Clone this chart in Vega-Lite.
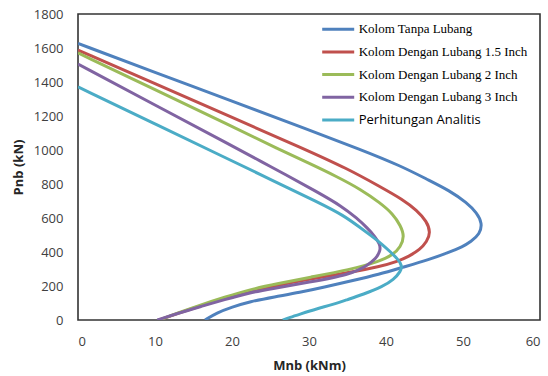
{
  "$schema": "https://vega.github.io/schema/vega-lite/v6.json",
  "width": 462,
  "height": 306,
  "autosize": {"type": "none"},
  "padding": {"left": 78, "top": 14, "right": 8, "bottom": 56},
  "background": "white",
  "config": {
    "view": {"stroke": "#333333", "strokeWidth": 1.6},
    "axis": {"domain": false, "ticks": false, "grid": false, "labelFont": "Open Sans", "labelFontSize": 13, "labelColor": "#404040", "titleFont": "Open Sans", "titleFontSize": 13, "titleFontWeight": "bold", "titleColor": "#262626"}
  },
  "data": {"values": [
    {"s": "Kolom Tanpa Lubang", "i": 1, "M": 0, "P": 1627},
    {"s": "Kolom Tanpa Lubang", "i": 2, "M": 10, "P": 1457},
    {"s": "Kolom Tanpa Lubang", "i": 3, "M": 20, "P": 1287},
    {"s": "Kolom Tanpa Lubang", "i": 4, "M": 30, "P": 1117},
    {"s": "Kolom Tanpa Lubang", "i": 5, "M": 36.6, "P": 1005},
    {"s": "Kolom Tanpa Lubang", "i": 6, "M": 42, "P": 905},
    {"s": "Kolom Tanpa Lubang", "i": 7, "M": 45.3, "P": 828},
    {"s": "Kolom Tanpa Lubang", "i": 8, "M": 48.3, "P": 760},
    {"s": "Kolom Tanpa Lubang", "i": 9, "M": 50.5, "P": 690},
    {"s": "Kolom Tanpa Lubang", "i": 10, "M": 51.8, "P": 630},
    {"s": "Kolom Tanpa Lubang", "i": 11, "M": 52.5, "P": 570},
    {"s": "Kolom Tanpa Lubang", "i": 12, "M": 52.2, "P": 505},
    {"s": "Kolom Tanpa Lubang", "i": 13, "M": 51, "P": 460},
    {"s": "Kolom Tanpa Lubang", "i": 14, "M": 50, "P": 432},
    {"s": "Kolom Tanpa Lubang", "i": 15, "M": 48, "P": 395},
    {"s": "Kolom Tanpa Lubang", "i": 16, "M": 45.7, "P": 357},
    {"s": "Kolom Tanpa Lubang", "i": 17, "M": 42, "P": 308},
    {"s": "Kolom Tanpa Lubang", "i": 18, "M": 39.2, "P": 270},
    {"s": "Kolom Tanpa Lubang", "i": 19, "M": 35.3, "P": 228},
    {"s": "Kolom Tanpa Lubang", "i": 20, "M": 32, "P": 193},
    {"s": "Kolom Tanpa Lubang", "i": 21, "M": 28.8, "P": 162},
    {"s": "Kolom Tanpa Lubang", "i": 22, "M": 25.5, "P": 136},
    {"s": "Kolom Tanpa Lubang", "i": 23, "M": 22.3, "P": 108},
    {"s": "Kolom Tanpa Lubang", "i": 24, "M": 20, "P": 76},
    {"s": "Kolom Tanpa Lubang", "i": 25, "M": 18, "P": 42},
    {"s": "Kolom Tanpa Lubang", "i": 26, "M": 16.5, "P": 0},

    {"s": "Kolom Dengan Lubang 1.5 Inch", "i": 1, "M": 0, "P": 1588},
    {"s": "Kolom Dengan Lubang 1.5 Inch", "i": 2, "M": 10, "P": 1390},
    {"s": "Kolom Dengan Lubang 1.5 Inch", "i": 3, "M": 20, "P": 1192},
    {"s": "Kolom Dengan Lubang 1.5 Inch", "i": 4, "M": 29.2, "P": 1010},
    {"s": "Kolom Dengan Lubang 1.5 Inch", "i": 5, "M": 35, "P": 890},
    {"s": "Kolom Dengan Lubang 1.5 Inch", "i": 6, "M": 39.2, "P": 785},
    {"s": "Kolom Dengan Lubang 1.5 Inch", "i": 7, "M": 42.2, "P": 708},
    {"s": "Kolom Dengan Lubang 1.5 Inch", "i": 8, "M": 44, "P": 645},
    {"s": "Kolom Dengan Lubang 1.5 Inch", "i": 9, "M": 45.3, "P": 580},
    {"s": "Kolom Dengan Lubang 1.5 Inch", "i": 10, "M": 45.8, "P": 515},
    {"s": "Kolom Dengan Lubang 1.5 Inch", "i": 11, "M": 45.3, "P": 460},
    {"s": "Kolom Dengan Lubang 1.5 Inch", "i": 12, "M": 44.4, "P": 414},
    {"s": "Kolom Dengan Lubang 1.5 Inch", "i": 13, "M": 43, "P": 375},
    {"s": "Kolom Dengan Lubang 1.5 Inch", "i": 14, "M": 41.4, "P": 343},
    {"s": "Kolom Dengan Lubang 1.5 Inch", "i": 15, "M": 39.2, "P": 314},
    {"s": "Kolom Dengan Lubang 1.5 Inch", "i": 16, "M": 35.3, "P": 280},
    {"s": "Kolom Dengan Lubang 1.5 Inch", "i": 17, "M": 30, "P": 240},
    {"s": "Kolom Dengan Lubang 1.5 Inch", "i": 18, "M": 26, "P": 205},
    {"s": "Kolom Dengan Lubang 1.5 Inch", "i": 19, "M": 22.3, "P": 168},
    {"s": "Kolom Dengan Lubang 1.5 Inch", "i": 20, "M": 19, "P": 126},
    {"s": "Kolom Dengan Lubang 1.5 Inch", "i": 21, "M": 16, "P": 84},
    {"s": "Kolom Dengan Lubang 1.5 Inch", "i": 22, "M": 13, "P": 40},
    {"s": "Kolom Dengan Lubang 1.5 Inch", "i": 23, "M": 10.5, "P": 0},

    {"s": "Kolom Dengan Lubang 2 Inch", "i": 1, "M": 0, "P": 1571},
    {"s": "Kolom Dengan Lubang 2 Inch", "i": 2, "M": 10, "P": 1355},
    {"s": "Kolom Dengan Lubang 2 Inch", "i": 3, "M": 20, "P": 1139},
    {"s": "Kolom Dengan Lubang 2 Inch", "i": 4, "M": 26.2, "P": 1002},
    {"s": "Kolom Dengan Lubang 2 Inch", "i": 5, "M": 30, "P": 922},
    {"s": "Kolom Dengan Lubang 2 Inch", "i": 6, "M": 33.6, "P": 844},
    {"s": "Kolom Dengan Lubang 2 Inch", "i": 7, "M": 36.8, "P": 766},
    {"s": "Kolom Dengan Lubang 2 Inch", "i": 8, "M": 39.2, "P": 690},
    {"s": "Kolom Dengan Lubang 2 Inch", "i": 9, "M": 40.9, "P": 625},
    {"s": "Kolom Dengan Lubang 2 Inch", "i": 10, "M": 41.9, "P": 555},
    {"s": "Kolom Dengan Lubang 2 Inch", "i": 11, "M": 42.4, "P": 492},
    {"s": "Kolom Dengan Lubang 2 Inch", "i": 12, "M": 41.9, "P": 430},
    {"s": "Kolom Dengan Lubang 2 Inch", "i": 13, "M": 40.9, "P": 384},
    {"s": "Kolom Dengan Lubang 2 Inch", "i": 14, "M": 39.2, "P": 345},
    {"s": "Kolom Dengan Lubang 2 Inch", "i": 15, "M": 35.3, "P": 296},
    {"s": "Kolom Dengan Lubang 2 Inch", "i": 16, "M": 30, "P": 250},
    {"s": "Kolom Dengan Lubang 2 Inch", "i": 17, "M": 26, "P": 214},
    {"s": "Kolom Dengan Lubang 2 Inch", "i": 18, "M": 22.3, "P": 179},
    {"s": "Kolom Dengan Lubang 2 Inch", "i": 19, "M": 19, "P": 134},
    {"s": "Kolom Dengan Lubang 2 Inch", "i": 20, "M": 16, "P": 90},
    {"s": "Kolom Dengan Lubang 2 Inch", "i": 21, "M": 13, "P": 42},
    {"s": "Kolom Dengan Lubang 2 Inch", "i": 22, "M": 10.6, "P": 0},

    {"s": "Kolom Dengan Lubang 3 Inch", "i": 1, "M": 0, "P": 1506},
    {"s": "Kolom Dengan Lubang 3 Inch", "i": 2, "M": 10, "P": 1265},
    {"s": "Kolom Dengan Lubang 3 Inch", "i": 3, "M": 20, "P": 1024},
    {"s": "Kolom Dengan Lubang 3 Inch", "i": 4, "M": 24.9, "P": 906},
    {"s": "Kolom Dengan Lubang 3 Inch", "i": 5, "M": 31.4, "P": 745},
    {"s": "Kolom Dengan Lubang 3 Inch", "i": 6, "M": 34.2, "P": 670},
    {"s": "Kolom Dengan Lubang 3 Inch", "i": 7, "M": 36.2, "P": 600},
    {"s": "Kolom Dengan Lubang 3 Inch", "i": 8, "M": 37.6, "P": 540},
    {"s": "Kolom Dengan Lubang 3 Inch", "i": 9, "M": 38.6, "P": 490},
    {"s": "Kolom Dengan Lubang 3 Inch", "i": 10, "M": 39.2, "P": 445},
    {"s": "Kolom Dengan Lubang 3 Inch", "i": 11, "M": 39.3, "P": 410},
    {"s": "Kolom Dengan Lubang 3 Inch", "i": 12, "M": 38.7, "P": 360},
    {"s": "Kolom Dengan Lubang 3 Inch", "i": 13, "M": 37.5, "P": 318},
    {"s": "Kolom Dengan Lubang 3 Inch", "i": 14, "M": 35.3, "P": 267},
    {"s": "Kolom Dengan Lubang 3 Inch", "i": 15, "M": 30, "P": 222},
    {"s": "Kolom Dengan Lubang 3 Inch", "i": 16, "M": 25, "P": 183},
    {"s": "Kolom Dengan Lubang 3 Inch", "i": 17, "M": 22.3, "P": 161},
    {"s": "Kolom Dengan Lubang 3 Inch", "i": 18, "M": 19, "P": 120},
    {"s": "Kolom Dengan Lubang 3 Inch", "i": 19, "M": 16, "P": 80},
    {"s": "Kolom Dengan Lubang 3 Inch", "i": 20, "M": 13, "P": 40},
    {"s": "Kolom Dengan Lubang 3 Inch", "i": 21, "M": 10.3, "P": 0},

    {"s": "Perhitungan Analitis", "i": 1, "M": 0, "P": 1371},
    {"s": "Perhitungan Analitis", "i": 2, "M": 10, "P": 1153},
    {"s": "Perhitungan Analitis", "i": 3, "M": 20, "P": 936},
    {"s": "Perhitungan Analitis", "i": 4, "M": 24.9, "P": 829},
    {"s": "Perhitungan Analitis", "i": 5, "M": 31.4, "P": 688},
    {"s": "Perhitungan Analitis", "i": 6, "M": 34.5, "P": 615},
    {"s": "Perhitungan Analitis", "i": 7, "M": 36.6, "P": 545},
    {"s": "Perhitungan Analitis", "i": 8, "M": 38.1, "P": 495},
    {"s": "Perhitungan Analitis", "i": 9, "M": 39.3, "P": 453},
    {"s": "Perhitungan Analitis", "i": 10, "M": 40.6, "P": 400},
    {"s": "Perhitungan Analitis", "i": 11, "M": 41.6, "P": 355},
    {"s": "Perhitungan Analitis", "i": 12, "M": 42.1, "P": 320},
    {"s": "Perhitungan Analitis", "i": 13, "M": 41.9, "P": 285},
    {"s": "Perhitungan Analitis", "i": 14, "M": 41, "P": 238},
    {"s": "Perhitungan Analitis", "i": 15, "M": 39.6, "P": 197},
    {"s": "Perhitungan Analitis", "i": 16, "M": 37, "P": 150},
    {"s": "Perhitungan Analitis", "i": 17, "M": 35, "P": 120},
    {"s": "Perhitungan Analitis", "i": 18, "M": 33.1, "P": 91},
    {"s": "Perhitungan Analitis", "i": 19, "M": 31, "P": 66},
    {"s": "Perhitungan Analitis", "i": 20, "M": 28.8, "P": 34},
    {"s": "Perhitungan Analitis", "i": 21, "M": 27.5, "P": 15},
    {"s": "Perhitungan Analitis", "i": 22, "M": 26.6, "P": 0}
  ]},
  "mark": {"type": "line", "interpolate": "basis", "strokeWidth": 3, "clip": true},
  "encoding": {
    "x": {"field": "M", "type": "quantitative", "title": "Mnb (kNm)", "scale": {"domain": [0, 60], "nice": false, "zero": true}, "axis": {"values": [0, 10, 20, 30, 40, 50, 60], "labelPadding": 15, "titlePadding": 11}},
    "y": {"field": "P", "type": "quantitative", "title": "Pnb (kN)", "scale": {"domain": [0, 1800], "nice": false}, "axis": {"values": [0, 200, 400, 600, 800, 1000, 1200, 1400, 1600, 1800], "format": "d", "labelPadding": 15, "titlePadding": 8}},
    "order": {"field": "i", "type": "quantitative"},
    "color": {
      "field": "s", "type": "nominal",
      "scale": {
        "domain": ["Kolom Tanpa Lubang", "Kolom Dengan Lubang 1.5 Inch", "Kolom Dengan Lubang 2 Inch", "Kolom Dengan Lubang 3 Inch", "Perhitungan Analitis"],
        "range": ["#4F81BD", "#C0504D", "#9BBB59", "#8064A2", "#4BACC6"]
      },
      "legend": {
        "title": null,
        "orient": "none",
        "legendX": 242.7,
        "legendY": 5.7,
        "symbolType": "M-1,0H3",
        "symbolSize": 256,
        "symbolStrokeWidth": 3,
        "labelFont": {"expr": "datum.label == 'Perhitungan Analitis' ? 'Open Sans' : 'Liberation Serif'"},
        "labelFontSize": 13,
        "labelLimit": 300,
        "labelColor": "#000000",
        "labelOffset": 19,
        "rowPadding": 5.7,
        "padding": 0
      }
    }
  }
}
